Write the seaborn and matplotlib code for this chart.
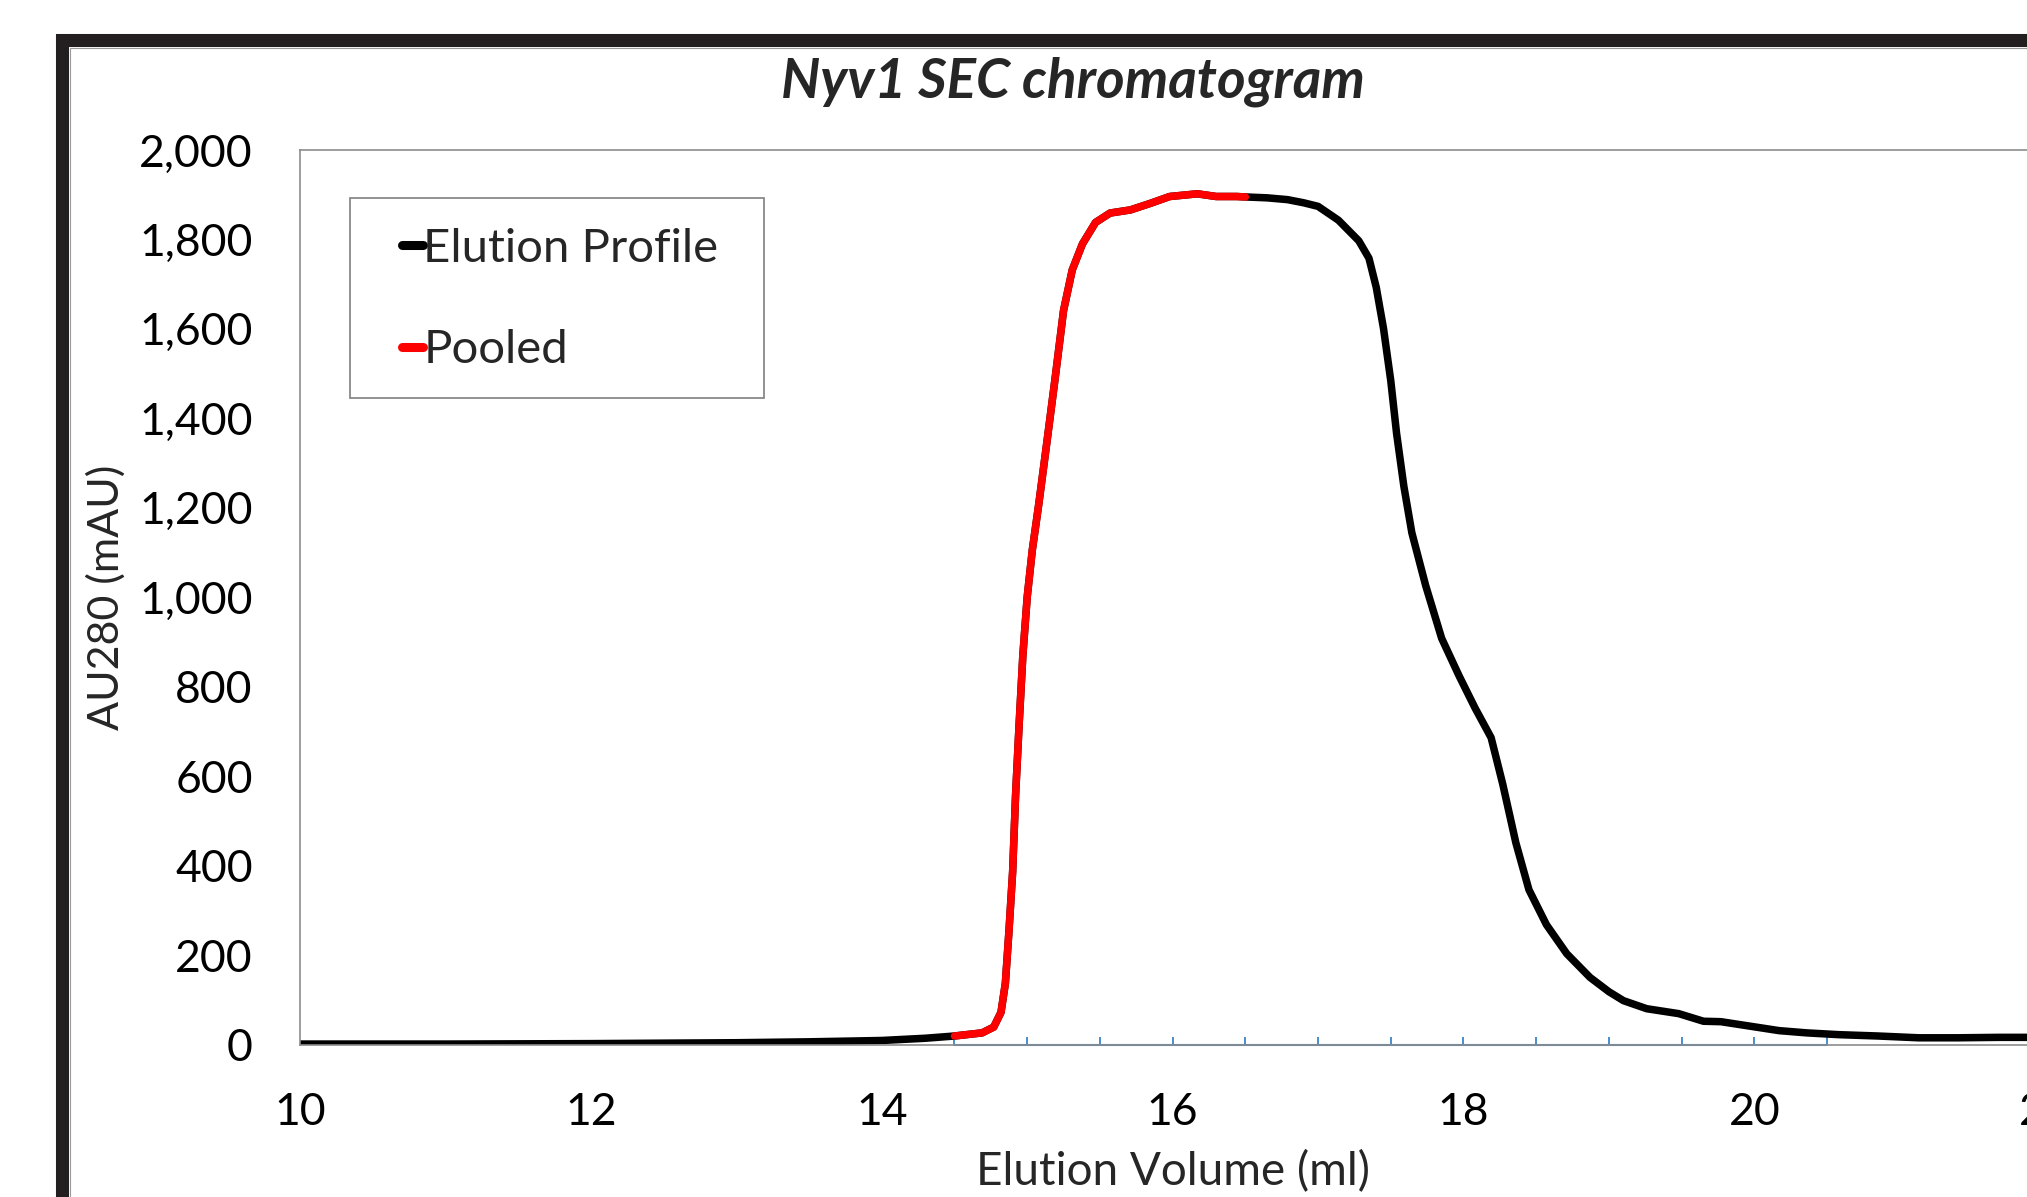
import matplotlib
matplotlib.use('Agg')
import matplotlib.pyplot as plt
import numpy as np
import pandas as pd
import seaborn as sns
from matplotlib.lines import Line2D
from matplotlib.patches import Rectangle
from matplotlib.ticker import FuncFormatter

# elution profile (ml, mAU)
volume = [10.0, 11.0, 12.0, 13.0, 13.5, 14.0, 14.3, 14.5, 14.69, 14.77, 14.82, 14.85,
          14.875, 14.9, 14.92, 14.944, 14.97, 15.0, 15.035, 15.08, 15.138, 15.195, 15.25,
          15.31, 15.38, 15.47, 15.57, 15.71, 15.85, 15.98, 16.17, 16.3, 16.44, 16.5,
          16.65, 16.79, 16.9, 17.0, 17.14, 17.28, 17.35, 17.4, 17.45, 17.5, 17.54,
          17.59, 17.645, 17.74, 17.85, 17.97, 18.08, 18.19, 18.27, 18.36, 18.45, 18.57,
          18.71, 18.87, 19.0, 19.1, 19.26, 19.48, 19.65, 19.77, 19.97, 20.17, 20.36,
          20.58, 20.85, 21.13, 21.4, 21.68, 22.0]
au280 = [1, 1, 2, 4, 6, 9, 14, 19, 26, 39, 72, 137,
         255, 386, 556, 712, 869, 1000, 1105, 1209, 1353, 1497, 1641,
         1732, 1790, 1838, 1859, 1866, 1881, 1896, 1902, 1896, 1896, 1895,
         1893, 1889, 1882, 1874, 1843, 1797, 1758, 1693, 1601, 1484, 1366,
         1248, 1144, 1026, 908, 824, 752, 686, 582, 451, 346, 268,
         203, 150, 118, 98, 80, 69, 52, 51, 41, 31, 26,
         22, 19, 15, 15, 16, 16]

pool_start = 14.5
pool_end = 16.5

# fraction markers along the baseline
fractions = [14.5, 15.0, 15.5, 16.0, 16.5, 17.0, 17.5, 18.0, 18.5, 19.0, 19.5, 20.0, 20.5]

df = pd.DataFrame({'volume': volume, 'au280': au280})
pooled = df[(df.volume >= pool_start) & (df.volume <= pool_end)]

sns.set_theme(style='white')
plt.rcParams['font.family'] = ['Lato', 'DejaVu Sans']

fig = plt.figure(figsize=(20.27, 11.97), dpi=100)
ax = fig.add_axes([0.148, 0.1274, 0.861, 0.7473])

ax.plot(fractions, [0] * len(fractions), color='#3d85c6', lw=1.5,
        marker=2, ms=6, mew=1.3, zorder=1, clip_on=False)
sns.lineplot(data=df, x='volume', y='au280', color='black', lw=5.4,
             solid_capstyle='round', solid_joinstyle='round', ax=ax, zorder=2)
sns.lineplot(data=pooled, x='volume', y='au280', color='#ff0000', lw=5.4,
             solid_capstyle='round', solid_joinstyle='round', ax=ax, zorder=3)

ax.set_xlim(10, 22)
ax.set_ylim(0, 2000)
ax.set_xticks([10, 12, 14, 16, 18, 20, 22])
ax.set_yticks(np.arange(0, 2001, 200))
ax.yaxis.set_major_formatter(FuncFormatter(lambda v, p: f'{v:,.0f}'))
ax.tick_params(axis='both', length=0, labelsize=32, colors='black')
ax.tick_params(axis='y', pad=34)
ax.tick_params(axis='x', pad=34)

for side in ['left', 'bottom', 'top', 'right']:
    ax.spines[side].set_color('#8c8c8c')
    ax.spines[side].set_linewidth(1.2)

ax.set_xlabel('Elution Volume (ml)', fontsize=33)
ax.set_ylabel('AU280 (mAU)', fontsize=31)
ax.xaxis.label.set_va('center')
ax.xaxis.set_label_coords(0.5, -0.142)
ax.yaxis.label.set_va('center')
ax.yaxis.set_label_coords(-0.111, 0.5)

# legend: no frame, box drawn by hand
handles = [
    Line2D([0], [0], color='black', lw=6.5, solid_capstyle='round'),
    Line2D([0], [0], color='#ff0000', lw=6.5, solid_capstyle='round'),
]
ax.legend(handles, ['Elution Profile', 'Pooled'], loc='upper left',
          bbox_to_anchor=(0.0584, 0.913), borderpad=0, borderaxespad=0,
          frameon=False, fontsize=34, handlelength=0.45, handletextpad=0.0,
          labelspacing=1.26)
ax.add_patch(Rectangle((0.0287, 0.7228), 0.2372, 0.2236, transform=ax.transAxes,
                       fill=False, edgecolor='#7f7f7f', lw=1.2, zorder=5))

fig.text(0.5294, 0.932, 'Nyv1 SEC chromatogram', fontsize=39.5, fontweight='bold',
         fontstyle='italic', ha='center', va='center')

# outer dark frame, cut off at the right and bottom
fig.patches.append(Rectangle((0.03074, -0.2), 1.2, 0.2 + 0.96658, transform=fig.transFigure,
                             fill=False, edgecolor='#231f20', lw=9.4, zorder=10))
fig.patches.append(Rectangle((0.0344, -0.2), 1.2, 0.2 + 0.9600, transform=fig.transFigure,
                             fill=False, edgecolor='#9a9a9a', lw=0.8, zorder=10))

plt.savefig('out.png', dpi=100)
plt.close()
